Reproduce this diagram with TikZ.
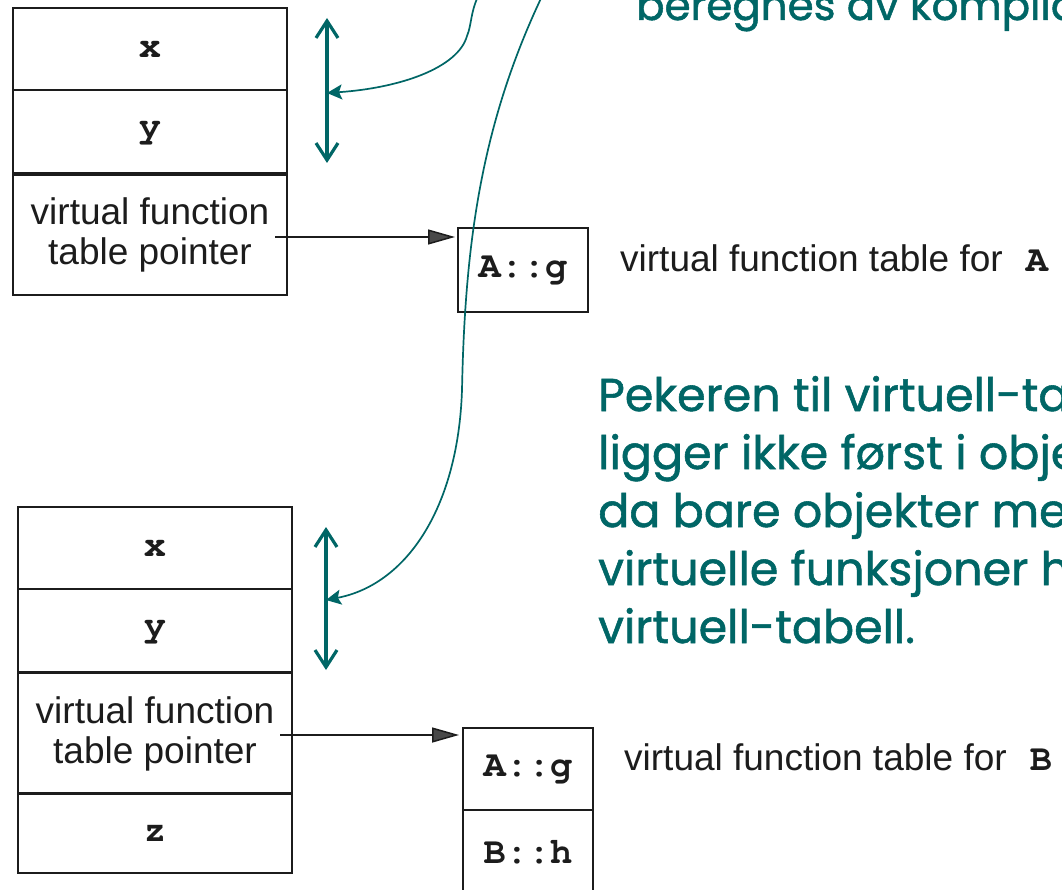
\documentclass[tikz,border=0pt]{standalone}
\usepackage[T1]{fontenc}
\usepackage{fontspec}
\setmainfont{Liberation Sans}
\newfontfamily\notefont{Poppins}[FakeBold=1.2]
\newcommand{\cour}{\fontencoding{T1}\fontfamily{pcr}\fontseries{b}\selectfont}
\usetikzlibrary{arrows.meta}
\definecolor{tealc}{RGB}{0,102,102}
\definecolor{ink}{RGB}{28,28,28}
\tikzset{
  cell/.style={draw=ink, line width=1.6pt, minimum width=274pt, inner sep=0pt, outer sep=0pt,
    text=ink, align=center, font=\fontsize{37}{40}\selectfont},
  vcell/.style={cell, minimum width=130pt},
  monotext/.style={font=\cour\fontsize{37}{40}\selectfont},
  label/.style={text=ink, anchor=base west, inner sep=0pt, font=\fontsize{37}{40}\selectfont},
  ptrarrow/.style={draw=ink, line width=1.5pt, -{Triangle[length=27pt,width=15pt,fill=ink!80]}},
  dblarrow/.style={draw=tealc, line width=3.2pt, {Straight Barb[length=17pt,width=22pt]}-{Straight Barb[length=17pt,width=22pt]}},
  curvearrow/.style={draw=tealc, line width=1.7pt, -{Stealth[length=15pt,width=15pt,inset=3pt]}},
  note/.style={text=tealc, inner sep=0pt, align=left, font=\notefont\fontsize{46}{58}\selectfont}
}
\begin{document}
\begin{tikzpicture}[x=1pt,y=-1pt]
\useasboundingbox (0,0) rectangle (1062,890);
\fill[white] (0,0) rectangle (1062,890);
\clip (0,0) rectangle (1062,890);

% object of class A
\node[cell, minimum height=82pt, monotext] (ax) at (150,49) {x};
\node[cell, minimum height=83pt, monotext] (ay) at (150,131.5) {y};
\node[cell, minimum height=120pt] (aptr) at (150,235) {virtual function\\table pointer};

% vtable A
\node[vcell, minimum height=84pt, monotext] (vtA) at (523,270) {A::g};
\node[label] (labA) at (620,272) {virtual function table for \hspace{0.35em}{\cour\fontsize{37}{40}\selectfont A}};

% object of class B
\node[cell, minimum height=82pt, monotext] (bx) at (155,548) {x};
\node[cell, minimum height=83pt, monotext] (by) at (155,630.5) {y};
\node[cell, minimum height=121pt] (bptr) at (155,734) {virtual function\\table pointer};
\node[cell, minimum height=80pt, monotext] (bz) at (155,833) {z};

% vtable B
\node[vcell, minimum height=82pt, monotext] (vtBg) at (528,769) {A::g};
\node[vcell, minimum height=84pt, monotext] (vtBh) at (528,852) {B::h};
\node[label] (labB) at (624,770) {virtual function table for \hspace{0.35em}{\cour\fontsize{37}{40}\selectfont B}};

% pointer arrows
\coordinate (pA) at ([xshift=-12pt,yshift=-2pt]aptr.east);
\draw[ptrarrow] (pA) -- ([xshift=-3pt]vtA.west |- pA);
\coordinate (pB) at ([xshift=-12pt,yshift=-1pt]bptr.east);
\draw[ptrarrow] (pB) -- ([xshift=-4pt]vtBg.west |- pB);

% teal double arrows
\coordinate (d1t) at (327,18);
\coordinate (d1b) at (327,163);
\coordinate (d1m) at (327,93);
\draw[dblarrow] (d1b) -- (d1t);
\coordinate (d2t) at (326,527);
\coordinate (d2b) at (326,670);
\coordinate (d2m) at (326,600);
\draw[dblarrow] (d2b) -- (d2t);

% teal curves
\coordinate (c1s) at (480,-8);
\coordinate (c1k) at (467,36);
\draw[curvearrow] (c1s) .. controls (470,12) and (472,24) .. (c1k)
   .. controls (458,68) and (400,88) .. (d1m);
\coordinate (c2s) at (545,-10);
\coordinate (c2k) at (462,390);
\draw[curvearrow] (c2s) .. controls (482,120) and (465,240) .. (c2k)
   .. controls (458,510) and (405,585) .. (d2m);

% teal notes
\node[note, anchor=base west, font=\notefont\fontsize{42}{58}\selectfont] (topnote) at (636,20) {beregnes av kompilatoren.};
\node[note, anchor=base west] (note) at (598,643) {Pekeren til virtuell-tabellen\\ligger ikke først i objektet,\\da bare objekter med\\virtuelle funksjoner har\\virtuell-tabell.};
\end{tikzpicture}
\end{document}
